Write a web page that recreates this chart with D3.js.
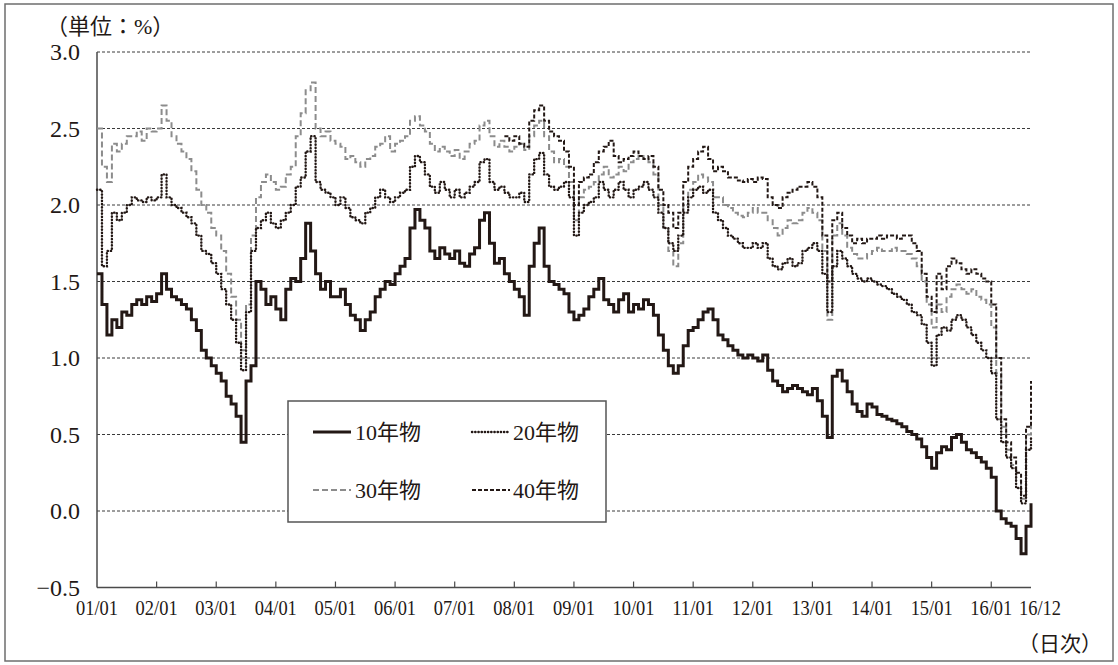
<!DOCTYPE html>
<html lang="ja">
<head>
<meta charset="utf-8">
<script src="https://cdn.jsdelivr.net/npm/d3@7"></script>
<style>
  html, body { margin: 0; padding: 0; background: #fff; }
  svg { display: block; }
  svg text { font-family: "Liberation Serif", "DejaVu Serif", "Noto Sans CJK JP", serif; fill: #231815; }
</style>
</head>
<body>
<svg id="chart" width="1118" height="665"></svg>
<script>
// monthly yields (%), index 0 = 2001/01
const yield10 = [
  1.55, 1.35, 1.15, 1.25, 1.20, 1.30, 1.28, 1.35, 1.38, 1.35, 1.40, 1.37, // 2001
  1.42, 1.55, 1.45, 1.40, 1.38, 1.35, 1.32, 1.25, 1.18, 1.05, 1.00, 0.95, // 2002
  0.90, 0.85, 0.75, 0.70, 0.62, 0.45, 0.85, 0.95, 1.50, 1.45, 1.35, 1.40, // 2003
  1.32, 1.25, 1.45, 1.52, 1.50, 1.65, 1.88, 1.70, 1.55, 1.45, 1.50, 1.40, // 2004
  1.40, 1.45, 1.35, 1.28, 1.25, 1.18, 1.25, 1.30, 1.40, 1.45, 1.50, 1.48, // 2005
  1.55, 1.60, 1.65, 1.85, 1.97, 1.90, 1.85, 1.70, 1.65, 1.72, 1.68, 1.65, // 2006
  1.70, 1.62, 1.60, 1.68, 1.72, 1.90, 1.95, 1.75, 1.62, 1.65, 1.55, 1.50, // 2007
  1.45, 1.40, 1.28, 1.60, 1.75, 1.85, 1.60, 1.50, 1.48, 1.45, 1.42, 1.30, // 2008
  1.25, 1.28, 1.32, 1.40, 1.45, 1.52, 1.38, 1.35, 1.30, 1.38, 1.42, 1.30, // 2009
  1.35, 1.32, 1.38, 1.35, 1.28, 1.15, 1.05, 0.95, 0.90, 0.95, 1.08, 1.18, // 2010
  1.20, 1.25, 1.30, 1.32, 1.25, 1.15, 1.12, 1.08, 1.05, 1.02, 1.00, 1.02, // 2011
  1.00, 0.98, 1.02, 0.92, 0.85, 0.82, 0.78, 0.80, 0.82, 0.80, 0.78, 0.76, // 2012
  0.80, 0.72, 0.62, 0.48, 0.88, 0.92, 0.85, 0.78, 0.70, 0.65, 0.62, 0.70, // 2013
  0.68, 0.63, 0.62, 0.60, 0.59, 0.57, 0.55, 0.52, 0.50, 0.47, 0.42, 0.35, // 2014
  0.28, 0.38, 0.42, 0.40, 0.48, 0.50, 0.45, 0.40, 0.38, 0.35, 0.32, 0.28, // 2015
  0.22, 0.00, -0.05, -0.08, -0.10, -0.18, -0.28, -0.10, 0.05              // 2016
];
const yield20 = [
  2.10, 1.60, 1.70, 1.95, 1.90, 1.95, 2.00, 2.05, 2.03, 2.02, 2.05, 2.03,
  2.05, 2.20, 2.05, 2.00, 1.98, 1.95, 1.92, 1.88, 1.80, 1.70, 1.68, 1.62,
  1.55, 1.45, 1.35, 1.25, 1.10, 0.92, 1.30, 1.70, 1.85, 1.90, 1.95, 1.88,
  1.85, 1.90, 1.95, 2.00, 2.12, 2.18, 2.35, 2.45, 2.15, 2.10, 2.08, 2.05,
  2.00, 2.05, 1.98, 1.92, 1.90, 1.88, 1.95, 1.98, 2.05, 2.10, 2.05, 2.02,
  2.05, 2.08, 2.10, 2.25, 2.32, 2.28, 2.20, 2.12, 2.08, 2.15, 2.10, 2.05,
  2.10, 2.05, 2.08, 2.12, 2.15, 2.28, 2.30, 2.15, 2.10, 2.12, 2.08, 2.05,
  2.05, 2.08, 2.02, 2.20, 2.30, 2.34, 2.20, 2.12, 2.10, 2.12, 2.15, 2.05,
  1.80, 1.95, 2.00, 2.02, 2.05, 2.15, 2.10, 2.05, 2.10, 2.15, 2.10, 2.05,
  2.10, 2.12, 2.15, 2.10, 2.05, 1.95, 1.85, 1.75, 1.70, 1.80, 1.95, 2.05,
  2.10, 2.12, 2.08, 2.10, 1.95, 1.90, 1.85, 1.80, 1.78, 1.75, 1.72, 1.72,
  1.75, 1.72, 1.75, 1.65, 1.60, 1.58, 1.62, 1.65, 1.60, 1.62, 1.70, 1.72,
  1.75, 1.70, 1.55, 1.30, 1.60, 1.70, 1.65, 1.60, 1.55, 1.52, 1.50, 1.52,
  1.50, 1.48, 1.47, 1.45, 1.42, 1.40, 1.38, 1.35, 1.30, 1.28, 1.22, 1.10,
  0.95, 1.15, 1.20, 1.18, 1.25, 1.28, 1.25, 1.20, 1.15, 1.10, 1.05, 1.00,
  0.90, 0.60, 0.45, 0.35, 0.28, 0.15, 0.05, 0.40, 0.48
];
const yield30 = [
  2.50, 2.25, 2.15, 2.40, 2.35, 2.40, 2.45, 2.45, 2.48, 2.42, 2.50, 2.48,
  2.50, 2.65, 2.55, 2.45, 2.40, 2.35, 2.30, 2.22, 2.10, 2.00, 1.95, 1.85,
  1.80, 1.70, 1.55, 1.40, 1.25, 1.05, 1.35, 1.80, 2.05, 2.15, 2.20, 2.15,
  2.10, 2.12, 2.20, 2.25, 2.45, 2.60, 2.75, 2.80, 2.50, 2.45, 2.48, 2.42,
  2.40, 2.38, 2.30, 2.32, 2.28, 2.25, 2.30, 2.32, 2.38, 2.40, 2.45, 2.35,
  2.40, 2.42, 2.45, 2.55, 2.58, 2.52, 2.48, 2.40, 2.35, 2.38, 2.35, 2.32,
  2.36, 2.30, 2.35, 2.40, 2.42, 2.52, 2.55, 2.45, 2.38, 2.42, 2.38, 2.35,
  2.38, 2.40, 2.36, 2.45, 2.52, 2.55, 2.45, 2.35, 2.28, 2.30, 2.25, 2.15,
  1.90, 2.05, 2.10, 2.12, 2.15, 2.20, 2.25, 2.18, 2.20, 2.25, 2.22, 2.28,
  2.30, 2.32, 2.30, 2.28, 2.20, 2.00, 1.85, 1.70, 1.60, 1.75, 2.00, 2.10,
  2.15, 2.20, 2.18, 2.15, 2.05, 2.05, 2.00, 1.98, 1.95, 1.93, 1.92, 1.95,
  1.98, 1.95, 1.95, 1.90, 1.85, 1.80, 1.85, 1.90, 1.88, 1.90, 1.95, 1.98,
  1.95, 1.90, 1.70, 1.25, 1.80, 1.88, 1.80, 1.72, 1.68, 1.65, 1.65, 1.68,
  1.70, 1.72, 1.70, 1.70, 1.72, 1.70, 1.70, 1.68, 1.65, 1.60, 1.50, 1.35,
  1.20, 1.35, 1.30, 1.40, 1.45, 1.48, 1.45, 1.42, 1.45, 1.40, 1.38, 1.35,
  1.20, 0.90, 0.55, 0.40, 0.30, 0.20, 0.08, 0.50, 0.60
];
// 40-year bond starts 2007/11 (index 82)
const start40 = 82;
const yield40 = [
  2.45, 2.42,                                                             // 2007
  2.45, 2.40, 2.38, 2.55, 2.62, 2.65, 2.55, 2.48, 2.45, 2.42, 2.35, 2.25, // 2008
  2.00, 2.15, 2.18, 2.20, 2.28, 2.35, 2.38, 2.42, 2.32, 2.28, 2.30, 2.32, // 2009
  2.35, 2.32, 2.30, 2.32, 2.25, 2.10, 2.00, 1.95, 1.85, 1.95, 2.15, 2.25, // 2010
  2.30, 2.35, 2.38, 2.30, 2.22, 2.25, 2.22, 2.18, 2.18, 2.16, 2.15, 2.17, // 2011
  2.15, 2.18, 2.17, 2.05, 2.00, 1.98, 2.05, 2.08, 2.10, 2.12, 2.12, 2.15, // 2012
  2.12, 2.05, 1.80, 1.50, 1.90, 1.95, 1.85, 1.80, 1.75, 1.78, 1.75, 1.78, // 2013
  1.78, 1.80, 1.78, 1.80, 1.80, 1.78, 1.80, 1.80, 1.75, 1.70, 1.55, 1.40, // 2014
  1.30, 1.55, 1.45, 1.60, 1.65, 1.62, 1.58, 1.55, 1.58, 1.55, 1.52, 1.50, // 2015
  1.35, 1.00, 0.60, 0.45, 0.35, 0.25, 0.10, 0.55, 0.85                    // 2016
];

const tickLabels = ['01/01', '02/01', '03/01', '04/01', '05/01', '06/01', '07/01', '08/01',
  '09/01', '10/01', '11/01', '12/01', '13/01', '14/01', '15/01', '16/01'];
const lastLabel = '16/12';
const yTicks = [3.0, 2.5, 2.0, 1.5, 1.0, 0.5, 0.0, -0.5];
const seriesNames = ['10年物', '20年物', '30年物', '40年物'];

const ink = '#231815';
const serif = '"Liberation Serif", "DejaVu Serif", "Noto Sans CJK JP", serif';
const svg = d3.select('#chart');

// outer frame
svg.append('rect')
  .attr('x', 5).attr('y', 4)
  .attr('width', 1108).attr('height', 657)
  .attr('fill', 'none')
  .attr('stroke', '#6e6e6e')
  .attr('stroke-width', 1.5);

const margin = { left: 97, top: 52, right: 87, bottom: 77.5 };
const width = 1118 - margin.left - margin.right;
const height = 665 - margin.top - margin.bottom;

const x = d3.scaleLinear().domain([0, 188]).range([0, width]);
const y = d3.scaleLinear().domain([-0.5, 3.0]).range([height, 0]);

const g = svg.append('g')
  .attr('transform', `translate(${margin.left}, ${margin.top})`);

// dashed grid
g.append('g').attr('class', 'grid')
  .selectAll('line')
  .data(yTicks.filter(d => d > -0.5))
  .join('line')
  .attr('x1', 0).attr('x2', width)
  .attr('y1', d => y(d)).attr('y2', d => y(d))
  .attr('stroke', '#3a3a3a')
  .attr('stroke-width', 1)
  .attr('stroke-dasharray', '3,2');

// y labels
g.append('g').attr('class', 'axis--y')
  .selectAll('text')
  .data(yTicks)
  .join('text')
  .attr('x', -17)
  .attr('y', d => y(d))
  .attr('dy', '0.35em')
  .attr('text-anchor', 'end')
  .style('font-family', serif)
  .style('font-size', '24px')
  .text(d => (d < 0 ? '\u2212' : '') + Math.abs(d).toFixed(1));

// axis lines
g.append('line')
  .attr('x1', 0).attr('x2', 0).attr('y1', 0).attr('y2', height)
  .attr('stroke', '#4a4a4a').attr('stroke-width', 1.5);
g.append('line')
  .attr('x1', 0).attr('x2', width).attr('y1', height).attr('y2', height)
  .attr('stroke', '#4a4a4a').attr('stroke-width', 1.5);

// x ticks (inward) and labels
const xAxis = g.append('g').attr('class', 'axis--x');
xAxis.selectAll('line')
  .data(tickLabels.slice(1))
  .join('line')
  .attr('x1', (d, i) => x((i + 1) * 12)).attr('x2', (d, i) => x((i + 1) * 12))
  .attr('y1', height).attr('y2', height - 6)
  .attr('stroke', '#4a4a4a').attr('stroke-width', 1.2);
xAxis.selectAll('text.tick')
  .data(tickLabels)
  .join('text')
  .attr('class', 'tick')
  .attr('x', (d, i) => x(i * 12))
  .attr('y', height + 27)
  .attr('text-anchor', 'middle')
  .attr('textLength', 42)
  .attr('lengthAdjust', 'spacingAndGlyphs')
  .style('font-family', serif)
  .style('font-size', '21px')
  .text(d => d);
xAxis.append('text')
  .attr('x', x(188) + 9)
  .attr('y', height + 27)
  .attr('text-anchor', 'middle')
  .attr('textLength', 42)
  .attr('lengthAdjust', 'spacingAndGlyphs')
  .style('font-family', serif)
  .style('font-size', '21px')
  .text(lastLabel);

// unit labels
svg.append('text')
  .attr('x', 46).attr('y', 34)
  .style('font-family', serif)
  .style('font-size', '22px')
  .text('（単位：%）');
svg.append('text')
  .attr('x', 1018).attr('y', 651)
  .style('font-family', serif)
  .style('font-size', '21px')
  .text('（日次）');

// series
const series = [
  { name: seriesNames[0], values: yield10, offset: 0, color: ink, width: 3, dash: null, cap: 'butt' },
  { name: seriesNames[1], values: yield20, offset: 0, color: ink, width: 2.4, dash: '0.3,2.9', cap: 'round' },
  { name: seriesNames[2], values: yield30, offset: 0, color: '#8c8c8c', width: 2, dash: '6,3', cap: 'butt' },
  { name: seriesNames[3], values: yield40, offset: start40, color: ink, width: 2, dash: '4,2', cap: 'butt' },
];

const line = d3.line()
  .x(d => x(d.i))
  .y(d => y(d.v))
  .curve(d3.curveStepAfter);

const plot = g.append('g').attr('class', 'lines');
// draw back to front: 30, 40, 20, 10
[2, 3, 1, 0].forEach(k => {
  const s = series[k];
  plot.append('path')
    .datum(s.values.map((v, i) => ({ i: i + s.offset, v })))
    .attr('d', line)
    .attr('fill', 'none')
    .attr('stroke', s.color)
    .attr('stroke-width', s.width)
    .attr('stroke-linecap', s.cap)
    .attr('stroke-dasharray', s.dash);
});

// legend
const legend = svg.append('g').attr('class', 'legend');
legend.append('rect')
  .attr('x', 288).attr('y', 401)
  .attr('width', 318).attr('height', 121)
  .attr('fill', '#fff')
  .attr('stroke', '#555')
  .attr('stroke-width', 1.5);

const legendPos = [[313, 432], [472, 432], [313, 490], [472, 490]];
series.forEach((s, k) => {
  const [lx, ly] = legendPos[k];
  legend.append('line')
    .attr('x1', lx).attr('x2', lx + 38)
    .attr('y1', ly).attr('y2', ly)
    .attr('stroke', s.color)
    .attr('stroke-width', s.width)
    .attr('stroke-linecap', s.cap)
    .attr('stroke-dasharray', s.dash);
  legend.append('text')
    .attr('x', lx + (k % 2 ? 41 : 42))
    .attr('y', ly)
    .attr('dy', '0.36em')
    .style('font-family', serif)
    .style('font-size', '22px')
    .text(s.name);
});
</script>
</body>
</html>
